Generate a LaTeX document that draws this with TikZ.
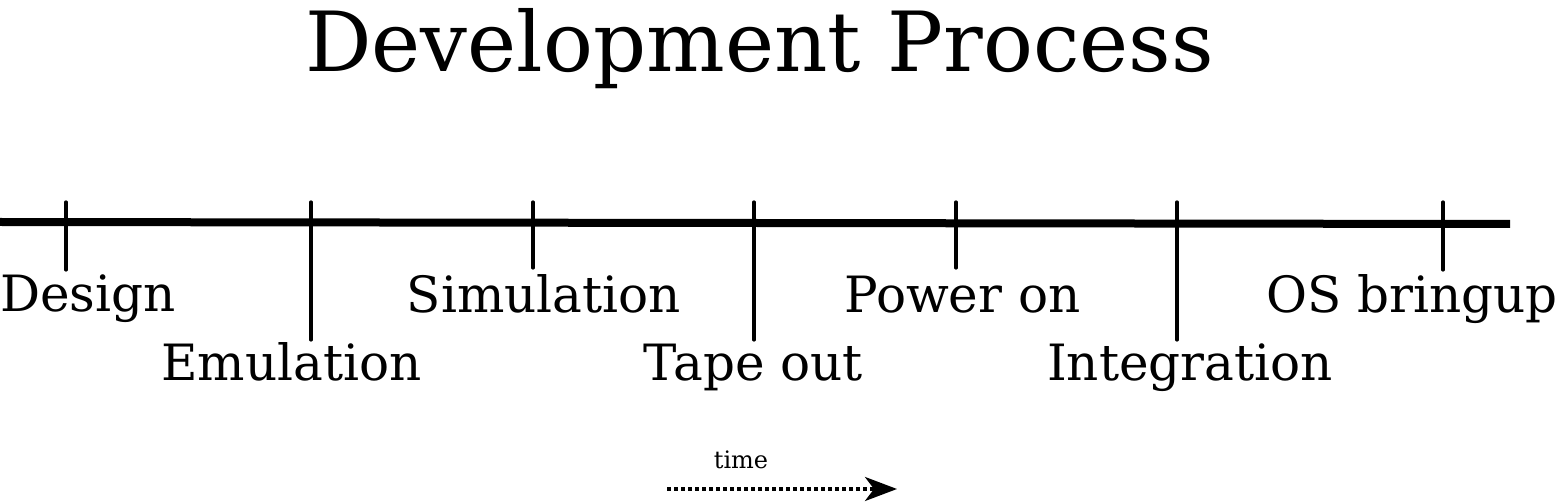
\documentclass[tikz,border=0pt]{standalone}
\usepackage{fontspec}
\setmainfont{DejaVu Serif}
\usetikzlibrary{arrows.meta}
\begin{document}
\begin{tikzpicture}[x=1pt,y=-1pt,
  lbl/.style={anchor=base,inner sep=0pt,font=\fontsize{50}{52}\selectfont},
  tick/.style={line width=3.2pt,line cap=round},
  axis/.style={line width=8pt}]
\useasboundingbox (0,0) rectangle (1556,502);
\node[anchor=base,inner sep=0pt,font=\fontsize{83}{88}\selectfont] (title) at (759.5,72) {Development Process};
\coordinate (L) at (0,222);
\coordinate (R) at (1510,224);
\draw[axis] (L) -- (R);
% ticks
\foreach \n/\x/\b in {t1/66/270,t2/311/340,t3/533/268,t4/754/340,t5/956/268,t6/1177/340,t7/1443/270}{
  \coordinate (\n top) at (\x,202);
  \coordinate (\n bot) at (\x,\b);
  \draw[tick] (\n top) -- (\n bot);
}
\node[lbl] (design) at (88,312) {Design};
\node[lbl] (emul) at (291.5,381) {Emulation};
\node[lbl] (sim) at (544,313) {Simulation};
\node[lbl] (tape) at (753.5,381) {Tape out};
\node[lbl] (power) at (962.5,313) {Power on};
\node[lbl] (integ) at (1190,381) {Integration};
\node[lbl] (os) at (1412,313) {OS bringup};
\node[anchor=base,inner sep=0pt,font=\fontsize{24}{26}\selectfont] (time) at (741,468) {time};
\coordinate (a1) at (667,489);
\coordinate (a2) at (897,489);
\draw[line width=3.5pt,dash pattern=on 4pt off 3pt,-{Stealth[length=32pt,width=24pt,inset=9pt]}] (a1) -- (a2);
\end{tikzpicture}
\end{document}
